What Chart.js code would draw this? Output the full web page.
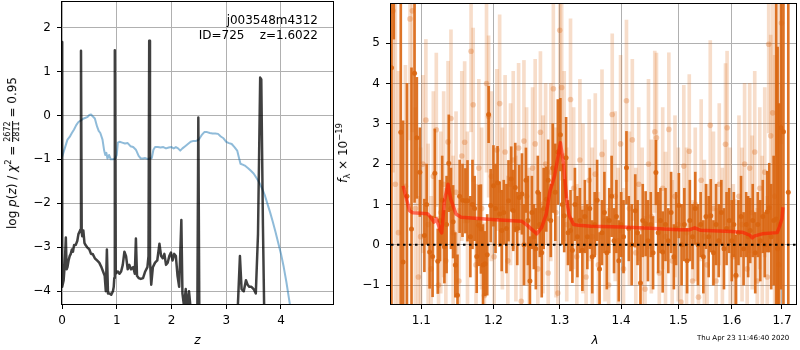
<!DOCTYPE html>
<html>
<head>
<meta charset="utf-8">
<script src="https://cdn.jsdelivr.net/npm/chart.js@4.4.1/dist/chart.umd.min.js"></script>
<style>
  html, body { margin: 0; padding: 0; background: #fff; }
  #wrap { position: relative; width: 800px; height: 350px; overflow: hidden; font-family: "DejaVu Sans", sans-serif; font-size: 12px; color: #000; }
  canvas { position: absolute; left: 0; top: 0; }
  .lbl { position: absolute; white-space: nowrap; line-height: 1; }
  .mid { transform: translate(-50%, -50%); }
  .rot { transform: translate(-50%, -50%) rotate(-90deg); }
  .frac { display: inline-block; vertical-align: middle; font-size: 8px; text-align: center; line-height: 1.05; }
  .frac span { display: block; }
  .frac .num { border-bottom: 1px solid #000; }
  sup, sub { font-size: 0.7em; line-height: 0; }
</style>
</head>
<body>
<div id="wrap">
  <canvas id="pz" width="800" height="350"></canvas>
  <canvas id="sp" width="800" height="350"></canvas>
  <div class="lbl" style="right:482px; top:13px; text-align:right; line-height:14.5px; white-space:pre;">j003548m4312
ID=725    z=1.6022</div>
  <div class="lbl rot" style="left:13px; top:153px;">log <i>p</i>(<i>z</i>) / <i>χ</i><sup>2</sup> = <span class="frac"><span class="num">2672</span><span>2811</span></span> = 0.95</div>
  <div class="lbl rot" style="left:343px; top:153px;"><i>f</i><sub>λ</sub> × 10<sup>−19</sup></div>
  <div class="lbl mid" style="left:197.5px; top:340px;"><i>z</i></div>
  <div class="lbl mid" style="left:595px; top:340px;"><i>λ</i></div>
  <div class="lbl" style="left:697px; top:335px; font-size:7px;">Thu Apr 23 11:46:40 2020</div>
</div>
<script>
// left panel: log p(z) (black) and chi2 (blue)
const zTicks = [0, 1, 2, 3, 4]
const pzTicks = [-4, -3, -2, -1, 0, 1, 2]

const pzZ = [0.000, 0.004, 0.03, 0.05, 0.07, 0.085, 0.10, 0.12, 0.14, 0.16,
  0.18, 0.20, 0.22, 0.25, 0.28, 0.30, 0.32, 0.335, 0.347, 0.36,
  0.37, 0.39, 0.41, 0.43, 0.46, 0.50, 0.53, 0.56, 0.60, 0.64,
  0.68, 0.72, 0.75, 0.78, 0.80, 0.82, 0.84, 0.87, 0.90, 0.93,
  0.945, 0.955, 0.965, 0.98, 1.02, 1.05, 1.08, 1.11, 1.14, 1.17,
  1.20, 1.23, 1.26, 1.30, 1.33, 1.35, 1.37, 1.40, 1.44, 1.48,
  1.52, 1.56, 1.58, 1.593, 1.607, 1.63, 1.66, 1.70, 1.74, 1.78,
  1.81, 1.84, 1.87, 1.90, 1.93, 1.96, 1.99, 2.02, 2.05, 2.08,
  2.11, 2.14, 2.18, 2.20, 2.23, 2.26, 2.29, 2.32, 2.35, 2.39,
  2.42, 2.47, 2.49, 2.51, 3.19, 3.22, 3.25, 3.28, 3.32, 3.36,
  3.39, 3.42, 3.46, 3.50, 3.54, 3.58, 3.62, 3.64, 3.67, 3.70,
  4.95]
const pzVal = [1.67, -3.9, -3.75, -3.4, -2.78, -3.5, -3.45, -3.3, -3.2, -3.15,
  -3.05, -3.1, -2.95, -2.95, -2.85, -2.7, -2.65, -2.6, 1.47, -2.65,
  -2.75, -2.62, -2.9, -2.95, -3.0, -3.05, -3.15, -3.15, -3.25, -3.3,
  -3.35, -3.45, -3.55, -3.65, -4.0, -3.05, -4.05, -4.05, -4.08, -4.0,
  -3.9, -3.7, 1.48, -3.6, -3.55, -3.6, -3.55, -3.4, -3.1, -3.2,
  -3.5, -3.4, -3.5, -3.45, -3.6, -2.8, -3.65, -3.7, -3.72, -3.7,
  -3.55, -3.45, -3.2, 1.7, -3.3, -3.85, -3.45, -3.35, -3.3, -2.92,
  -3.2, -3.25, -3.15, -3.4, -3.35, -3.2, -3.12, -3.3, -3.15, -3.2,
  -3.65, -3.9, -2.38, -4.05, -4.35, -3.95, -4.4, -4.0, -4.4, -4.5,
  -5, -5, -0.05, -5, -5, -4.1, -3.2, -3.95, -4.0, -3.75,
  -3.85, -3.9, -3.9, -3.95, -4.05, -2.7, 0.86, 0.82, -2.5, -5,
  -5]

const chiZ = [0.00, 0.05, 0.10, 0.14, 0.18, 0.22, 0.26, 0.30, 0.34, 0.38,
  0.42, 0.46, 0.50, 0.53, 0.56, 0.60, 0.64, 0.67, 0.70, 0.74,
  0.77, 0.79, 0.81, 0.83, 0.86, 0.89, 0.93, 0.97, 1.00, 1.02,
  1.05, 1.10, 1.15, 1.20, 1.25, 1.30, 1.35, 1.40, 1.44, 1.48,
  1.52, 1.56, 1.60, 1.64, 1.67, 1.70, 1.75, 1.80, 1.85, 1.90,
  1.95, 2.00, 2.04, 2.08, 2.12, 2.16, 2.20, 2.25, 2.30, 2.35,
  2.40, 2.45, 2.50, 2.55, 2.60, 2.65, 2.70, 2.75, 2.80, 2.85,
  2.90, 2.95, 3.00, 3.05, 3.10, 3.15, 3.20, 3.23, 3.26, 3.30,
  3.35, 3.40, 3.45, 3.50, 3.55, 3.60, 3.65, 3.70, 3.75, 3.80,
  3.85, 3.90, 3.95, 4.00, 4.05, 4.10, 4.15, 4.20]
const chiVal = [-0.95, -0.75, -0.55, -0.49, -0.4, -0.32, -0.22, -0.15, -0.12, -0.08,
  -0.06, -0.04, 0.01, 0.02, -0.02, -0.07, -0.25, -0.35, -0.4, -0.55,
  -0.8, -0.9, -0.85, -0.98, -0.9, -1.0, -1.0, -0.98, -0.9, -0.62,
  -0.6, -0.62, -0.64, -0.63, -0.7, -0.72, -0.78, -0.92, -0.98, -0.98,
  -0.97, -0.99, -0.98, -0.97, -0.78, -0.72, -0.72, -0.73, -0.72, -0.75,
  -0.73, -0.72, -0.75, -0.72, -0.75, -0.8, -0.75, -0.7, -0.65, -0.6,
  -0.58, -0.58, -0.55, -0.45, -0.38, -0.38, -0.4, -0.41, -0.41, -0.42,
  -0.48, -0.52, -0.6, -0.63, -0.65, -0.72, -0.8, -0.95, -1.1, -1.12,
  -1.15, -1.2, -1.26, -1.32, -1.42, -1.52, -1.65, -1.8, -2.0, -2.2,
  -2.42, -2.65, -2.9, -3.15, -3.45, -3.8, -4.2, -4.6]

// right panel: spectrum
const lamMin = 1.0604, lamMax = 1.729
const lamTicks = [1.1, 1.2, 1.3, 1.4, 1.5, 1.6, 1.7]
const fluxTicks = [-1, 0, 1, 2, 3, 4, 5]

const darkLam = [1.061, 1.064, 1.073, 1.076, 1.081, 1.087, 1.091, 1.094, 1.098, 1.104,
  1.107, 1.111, 1.115, 1.118, 1.122, 1.125, 1.128, 1.131, 1.134, 1.137,
  1.140, 1.143, 1.146, 1.149, 1.152, 1.156, 1.160, 1.163, 1.167, 1.170,
  1.173, 1.176, 1.179, 1.182, 1.185, 1.188, 1.191, 1.193, 1.196, 1.200,
  1.203, 1.206, 1.209, 1.212, 1.215, 1.219, 1.222, 1.226, 1.229, 1.232,
  1.235, 1.238, 1.242, 1.245, 1.248, 1.251, 1.254, 1.257, 1.260, 1.263,
  1.266, 1.269, 1.272, 1.275, 1.279, 1.282, 1.286, 1.289, 1.293, 1.297,
  1.301, 1.304, 1.307, 1.310, 1.313, 1.317, 1.320, 1.324, 1.328, 1.332,
  1.336, 1.340, 1.344, 1.348, 1.352, 1.356, 1.360, 1.364, 1.368, 1.372,
  1.376, 1.380, 1.384, 1.388, 1.392, 1.396, 1.400, 1.404, 1.409, 1.413,
  1.418, 1.424, 1.428, 1.433, 1.437, 1.442, 1.446, 1.451, 1.455, 1.460,
  1.464, 1.468, 1.472, 1.477, 1.482, 1.487, 1.492, 1.496, 1.501, 1.506,
  1.511, 1.516, 1.521, 1.526, 1.531, 1.536, 1.541, 1.546, 1.551, 1.556,
  1.560, 1.565, 1.570, 1.575, 1.580, 1.585, 1.590, 1.595, 1.600, 1.604,
  1.608, 1.613, 1.618, 1.623, 1.628, 1.632, 1.636, 1.641, 1.646, 1.651,
  1.656, 1.661, 1.665, 1.670, 1.674, 1.678, 1.683, 1.688, 1.691, 1.694,
  1.698, 1.703, 1.713]
const darkVal = [4.39, 6.9, 2.79, -0.43, 1.2, 0.39, 4.25, 2.65, 1.8, 0.23,
  1.0, -0.18, -0.29, 1.77, -0.41, 0.6, 1.1, -0.05, 0.5, 2.02,
  0.9, 0.57, -0.5, -1.25, 1.2, 1.1, 1.09, 1.09, 0.2, 1.0,
  0.9, -0.29, 0.48, 0.39, -0.5, -0.47, -0.25, 3.23, 0.97, 1.46,
  0.9, 1.54, 0.76, 0.35, 0.8, 0.4, 1.09, 1.63, 0.85, 1.42,
  0.4, 1.17, 1.26, 0.0, 1.6, 0.6, -0.9, 0.8, 0.2, -0.1,
  1.3, 0.5, -0.2, 0.9, 1.13, 1.6, 0.6, 1.9, 1.3, 2.3,
  2.73, 1.0, 0.72, 2.16, 0.3, 0.35, -0.14, 1.0, 0.2, 0.6,
  -0.14, 0.7, 0.2, 0.9, -0.3, 0.5, 1.1, -0.6, 0.3, 0.8,
  -0.2, 0.6, 1.2, 0.1, 0.7, -0.4, 0.5, 0.2, 1.91, 0.4,
  0.0, 0.84, 0.3, -0.95, 0.6, 0.52, 0.1, 0.5, -0.2, 1.79,
  0.3, 0.6, -0.18, 0.5, 0.1, 0.8, -0.3, 0.4, 0.97, 0.0,
  0.5, -0.4, 0.6, 0.2, 0.9, 0.0, 0.5, -0.3, 0.7, 0.2,
  0.72, -0.2, 0.5, 0.1, 0.8, -0.1, 0.4, 0.6, 0.1, 0.5,
  -0.76, 0.3, 0.7, -0.1, 0.5, 0.2, 0.35, 0.6, -0.2, 0.5,
  0.1, 0.7, 0.0, 0.82, 0.92, 0.2, 0.6, 0.64, -0.1, 0.5,
  2.9, 2.8, 1.3]
const darkErr = [8, 1.8, 6, 3.5, 2.8, 4, 3.2, 1.5, 1.1, 0.9,
  1.0, 0.9, 1.0, 1.1, 0.8, 1.0, 1.1, 0.9, 1.2, 1.2,
  1.0, 0.9, 0.8, 1.0, 0.9, 0.9, 0.8, 1.0, 1.0, 1.1,
  0.8, 0.9, 1.0, 1.1, 1.0, 0.8, 1.0, 0.7, 0.9, 1.0,
  1.1, 0.9, 0.8, 1.0, 0.8, 1.1, 1.0, 0.8, 1.0, 1.1,
  0.9, 0.8, 1.0, 1.0, 0.8, 1.1, 1.1, 0.9, 0.8, 1.0,
  0.9, 0.8, 1.1, 1.0, 0.8, 1.0, 0.9, 1.1, 1.2, 1.3,
  0.9, 1.0, 0.9, 1.0, 0.8, 1.0, 0.8, 0.9, 1.0, 0.8,
  1.0, 0.9, 0.8, 1.0, 0.9, 0.8, 1.0, 0.9, 0.8, 1.0,
  0.9, 0.8, 1.0, 0.8, 0.9, 1.0, 0.8, 0.9, 0.9, 0.8,
  1.0, 0.9, 0.8, 1.2, 0.9, 0.8, 1.0, 0.8, 0.9, 0.8,
  1.0, 0.8, 1.0, 0.9, 0.8, 1.0, 0.8, 0.9, 0.8, 1.0,
  0.9, 0.8, 1.0, 0.8, 0.9, 1.0, 0.8, 0.9, 0.8, 1.0,
  0.9, 0.8, 1.0, 0.9, 0.8, 1.0, 0.9, 0.8, 1.0, 0.8,
  1.0, 0.8, 1.0, 0.9, 0.8, 1.0, 0.8, 0.9, 1.0, 0.8,
  1.0, 0.9, 0.8, 1.0, 1.1, 1.3, 1.6, 6, 5, 3,
  4, 8, 8]

const lightLam = [1.063, 1.066, 1.070, 1.079, 1.085, 1.088, 1.092, 1.096, 1.099, 1.102,
  1.106, 1.109, 1.113, 1.116, 1.120, 1.123, 1.126, 1.130, 1.133, 1.136,
  1.140, 1.143, 1.147, 1.151, 1.155, 1.159, 1.163, 1.168, 1.171, 1.175,
  1.179, 1.183, 1.187, 1.190, 1.193, 1.197, 1.201, 1.205, 1.209, 1.213,
  1.217, 1.221, 1.225, 1.229, 1.233, 1.237, 1.241, 1.245, 1.249, 1.253,
  1.258, 1.262, 1.266, 1.270, 1.274, 1.278, 1.282, 1.286, 1.290, 1.294,
  1.297, 1.300, 1.303, 1.307, 1.311, 1.317, 1.322, 1.327, 1.332, 1.337,
  1.342, 1.347, 1.352, 1.357, 1.362, 1.368, 1.373, 1.379, 1.385, 1.390,
  1.395, 1.399, 1.404, 1.409, 1.414, 1.419, 1.425, 1.430, 1.436, 1.441,
  1.447, 1.452, 1.458, 1.461, 1.466, 1.472, 1.477, 1.483, 1.489, 1.494,
  1.500, 1.505, 1.510, 1.515, 1.520, 1.526, 1.531, 1.537, 1.542, 1.548,
  1.553, 1.559, 1.565, 1.570, 1.576, 1.582, 1.588, 1.591, 1.597, 1.603,
  1.608, 1.614, 1.620, 1.625, 1.630, 1.635, 1.640, 1.645, 1.650, 1.655,
  1.660, 1.665, 1.670, 1.673, 1.677, 1.681, 1.685, 1.690, 1.694, 1.699]
const lightVal = [5.8, 1.5, 0.3, 1.45, 5.6, 5.8, 0.9, -0.8, 0.2, 2.0,
  3.09, 0.5, -0.6, 1.7, 2.85, -1.0, 0.8, 1.5, -0.4, 2.55,
  3.13, 0.3, 1.3, -0.9, 2.2, 2.54, 0.6, 4.8, 3.47, -0.5,
  1.9, 0.9, -1.26, 4.0, 3.18, 1.7, -0.3, 2.35, 3.5, 0.9,
  2.3, -0.4, 1.5, 2.1, 0.4, 2.4, -1.4, 2.57, 1.2, 0.0,
  1.9, 2.5, -0.6, 2.79, 1.0, 2.0, -0.7, 1.8, 3.87, 0.8,
  -1.2, 5.32, 3.9, 2.2, 0.5, 3.6, 1.4, -0.3, 2.1, 0.9,
  -0.8, 1.6, 0.2, 1.75, -0.5, 2.24, 0.6, -1.0, 3.23, 1.2,
  0.1, 2.5, -0.6, 3.57, 0.9, 2.6, -0.2, 1.5, 0.4, -1.1,
  2.0, 0.7, 2.8, 2.65, -0.7, 1.4, 0.2, 2.86, -0.4, 1.2,
  0.5, -1.42, 1.95, 0.3, 2.32, -0.9, 1.0, -1.3, 1.6, 0.2,
  -0.5, 2.96, 0.9, -0.9, 1.5, 0.0, 2.49, 2.9, 0.4, -0.3,
  -0.78, 1.2, 0.5, 2.0, -0.6, 1.9, 0.8, 2.3, -0.9, 1.4,
  0.3, 1.8, -0.8, 4.97, 2.7, 3.27, 1.2, 6.2, -0.5, 5.5]
const lightErr = [4, 5, 4, 3, 3, 3, 2.5, 2, 2.2, 2.2,
  2.0, 2.0, 1.8, 2.1, 1.9, 1.7, 2.0, 2.3, 1.8, 2.0,
  2.2, 1.9, 2.0, 1.8, 2.1, 2.0, 2.2, 2.0, 1.9, 2.0,
  2.2, 2.0, 1.8, 2.2, 2.0, 2.1, 1.9, 2.0, 2.2, 2.0,
  1.9, 2.1, 2.0, 2.2, 1.8, 2.1, 1.9, 2.0, 2.2, 1.9,
  2.0, 2.1, 1.9, 2.0, 2.2, 2.0, 1.8, 2.2, 2.4, 2.1,
  1.9, 2.6, 2.3, 2.1, 1.9, 2.0, 2.0, 1.8, 2.0, 2.1,
  1.9, 2.0, 2.2, 2.0, 1.8, 2.1, 2.0, 1.9, 2.0, 2.1,
  1.8, 2.2, 2.0, 2.0, 1.9, 2.0, 2.1, 1.9, 2.0, 1.8,
  2.1, 1.9, 2.0, 2.1, 1.8, 2.0, 2.1, 1.9, 2.0, 2.0,
  1.9, 1.8, 2.0, 2.1, 1.9, 2.0, 1.9, 1.8, 2.0, 1.9,
  2.0, 2.1, 1.9, 1.8, 2.0, 1.9, 2.0, 1.9, 2.0, 1.8,
  1.9, 2.0, 1.9, 2.0, 1.8, 2.1, 1.9, 2.0, 1.8, 2.0,
  1.9, 2.1, 2.0, 2.2, 2.5, 3.0, 3.5, 4, 4, 3]

const modelLam = [1.076, 1.0845, 1.089, 1.108, 1.1125, 1.117, 1.120, 1.1247, 1.1273, 1.131,
  1.136, 1.1397, 1.147, 1.154, 1.203, 1.242, 1.250, 1.2644, 1.272, 1.279,
  1.2848, 1.292, 1.301, 1.306, 1.311, 1.315, 1.322, 1.33, 1.35, 1.40,
  1.45, 1.50, 1.52, 1.53, 1.54, 1.60, 1.62, 1.635, 1.64, 1.645,
  1.66, 1.69, 1.695, 1.70, 1.702]
const modelVal = [1.46, 0.84, 0.79, 0.77, 0.68, 0.56, 0.65, 0.39, 0.29, 1.09,
  1.5, 1.13, 0.76, 0.68, 0.62, 0.58, 0.48, 0.27, 0.43, 0.76,
  1.34, 1.71, 2.53, 2.0, 1.09, 0.72, 0.5, 0.48, 0.46, 0.44,
  0.41, 0.37, 0.37, 0.42, 0.36, 0.33, 0.31, 0.24, 0.17, 0.22,
  0.27, 0.3, 0.45, 0.65, 0.93]

const darkColor = "rgba(217, 101, 15, 0.9)"
const lightColor = "rgba(217, 101, 15, 0.22)"

// black box around each plot area, like matplotlib spines
const frame = {
  id: "frame",
  afterDraw(chart) {
    const { ctx, chartArea: a } = chart
    ctx.save()
    ctx.strokeStyle = "#000"
    ctx.lineWidth = 1
    ctx.strokeRect(Math.round(a.left) - 0.5, Math.round(a.top) - 0.5,
      Math.round(a.right - a.left) + 1, Math.round(a.bottom - a.top) + 1)
    ctx.restore()
  }
}

function minus(v) {
  return v < 0 ? "\u2212" + Math.abs(v) : String(v)
}

function axis(type, min, max, tickValues, size, isX, fmt) {
  return {
    type: type,
    min: min,
    max: max,
    offset: false,
    bounds: "data",
    afterBuildTicks: scale => { scale.ticks = tickValues.map(v => ({ value: v })) },
    afterFit: scale => {
      if (isX) scale.height = size; else scale.width = size
      // no extra room for overhanging tick labels
      scale.paddingTop = 0
      scale.paddingBottom = 0
      scale.paddingLeft = 0
      scale.paddingRight = 0
    },
    grid: { color: "#b0b0b0", lineWidth: 1, tickLength: 5, tickColor: "#000", tickWidth: 1, offset: false },
    border: { display: false },
    ticks: {
      color: "#000",
      font: { family: "DejaVu Sans", size: 12 },
      padding: isX ? 5 : 6,
      maxRotation: 0,
      autoSkip: false,
      callback: fmt
    }
  }
}

const commonOptions = {
  responsive: false,
  animation: false,
  events: [],
  plugins: { legend: { display: false }, tooltip: { enabled: false } }
}

new Chart(document.getElementById("pz"), {
  type: "scatter",
  data: {
    datasets: [
      {
        data: pzZ.map((z, i) => ({ x: z, y: pzVal[i] })),
        showLine: true,
        borderColor: "rgba(0, 0, 0, 0.75)",
        borderWidth: 2.5,
        borderJoinStyle: "round",
        pointRadius: 0,
        clip: 0,
        order: 0
      },
      {
        data: chiZ.map((z, i) => ({ x: z, y: chiVal[i] })),
        showLine: true,
        borderColor: "rgba(31, 119, 180, 0.5)",
        borderWidth: 2,
        borderJoinStyle: "round",
        pointRadius: 0,
        clip: 0,
        order: 1
      }
    ]
  },
  options: {
    ...commonOptions,
    layout: { padding: { left: 0, top: 2, right: 467, bottom: 0 } },
    scales: {
      x: axis("linear", 0, 4.95, zTicks, 46, true, minus),
      y: axis("linear", -4.29, 2.58, pzTicks, 62, false, minus)
    }
  },
  plugins: [frame]
})

new Chart(document.getElementById("sp"), {
  type: "scatter",
  data: {
    datasets: [
      {
        type: "line",
        data: modelLam.map((l, i) => ({ x: l, y: modelVal[i] })),
        borderColor: "rgba(255, 25, 0, 0.6)",
        borderWidth: 3.5,
        borderJoinStyle: "round",
        pointRadius: 0,
        clip: 0,
        order: 0
      },
      {
        type: "line",
        data: [{ x: lamMin, y: 0 }, { x: lamMax, y: 0 }],
        borderColor: "#000",
        borderWidth: 2,
        borderDash: [2.5, 3.5],
        pointRadius: 0,
        clip: 0,
        order: 1
      },
      {
        data: darkLam.map((l, i) => ({ x: l, y: darkVal[i] })),
        backgroundColor: darkColor,
        borderWidth: 0,
        pointRadius: 2.5,
        clip: 0,
        order: 2
      },
      {
        type: "bar",
        data: darkLam.map((l, i) => ({ x: l, y: [darkVal[i] - darkErr[i], darkVal[i] + darkErr[i]] })),
        backgroundColor: darkColor,
        borderWidth: 0,
        barThickness: 2,
        grouped: false,
        clip: 0,
        order: 3
      },
      {
        data: lightLam.map((l, i) => ({ x: l, y: lightVal[i] })),
        backgroundColor: "rgba(217, 101, 15, 0.3)",
        borderWidth: 0,
        pointRadius: 2.8,
        clip: 0,
        order: 4
      },
      {
        type: "bar",
        data: lightLam.map((l, i) => ({ x: l, y: [lightVal[i] - lightErr[i], lightVal[i] + lightErr[i]] })),
        backgroundColor: lightColor,
        borderWidth: 0,
        barThickness: 3,
        grouped: false,
        clip: 0,
        order: 5
      }
    ]
  },
  options: {
    ...commonOptions,
    layout: { padding: { left: 329, top: 2, right: 1, bottom: 0 } },
    scales: {
      x: axis("logarithmic", lamMin, lamMax, lamTicks, 46, true, v => v.toFixed(1)),
      y: axis("linear", -1.47, 5.97, fluxTicks, 62, false, minus)
    }
  },
  plugins: [frame]
})
</script>
</body>
</html>
